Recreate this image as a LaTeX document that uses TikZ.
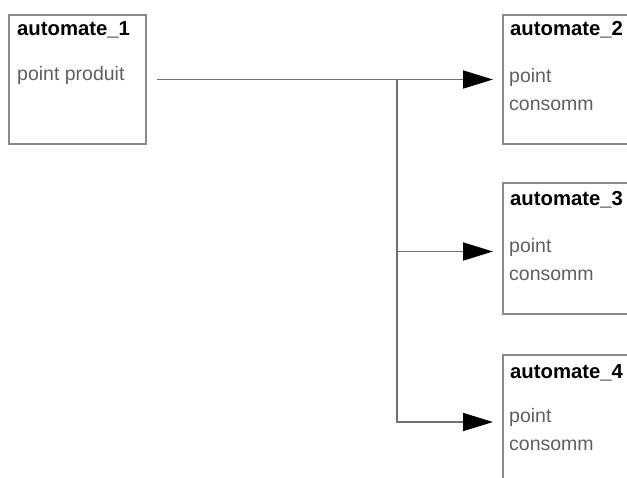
\documentclass[tikz,border=0pt]{standalone}
\usepackage{fontspec}
\setmainfont{Liberation Sans}
\usetikzlibrary{arrows.meta}
\definecolor{boxline}{HTML}{8A8A8A}
\definecolor{wireline}{HTML}{707070}
\definecolor{bodytext}{HTML}{606060}
\begin{document}
\begin{tikzpicture}[x=1pt,y=-1pt,
  block/.style={draw=boxline,line width=1.8pt,rectangle,fill=white,
    minimum width=137pt,minimum height=129pt,inner sep=0pt,outer sep=0pt},
  title/.style={anchor=base west,inner sep=0pt,font=\fontsize{20.3}{20.3}\selectfont\bfseries},
  body/.style={anchor=base west,inner sep=0pt,text=bodytext,
    font=\fontsize{19.5}{19.5}\selectfont},
  wire/.style={draw=wireline,line width=1.7pt},
  arrowwire/.style={wire,-{Triangle[length=30pt,width=18pt,fill=black,color=black]},shorten >=10pt}
]
\useasboundingbox (0,0) rectangle (627,477);
\clip (0,0) rectangle (627,477);
\fill[white] (0,0) rectangle (627,477);

% producer
\node[block,anchor=north west] (a1) at (9,15) {};
\node[title] (t1) at (17,35) {automate\_1};
\node[body] (p1) at (17,80) {point produit};

% consumers
\node[block,anchor=north west] (a2) at (503,15) {};
\node[title] (t2) at (510,35) {automate\_2};
\node[body] (p2) at (509,82) {point};
\node[body] (c2) at (509,110) {consomm};

\node[block,anchor=north west,minimum height=131pt] (a3) at (503,183) {};
\node[title] (t3) at (510,205) {automate\_3};
\node[body] (p3) at (509,252) {point};
\node[body] (c3) at (509,280) {consomm};

\node[block,anchor=north west,minimum height=134pt] (a4) at (503,355) {};
\node[title] (t4) at (510,378) {automate\_4};
\node[body] (p4) at (509,422) {point};
\node[body] (c4) at (509,450) {consomm};

% distribution wiring
\coordinate (start) at ([xshift=11pt]a1.east);
\coordinate (j) at (397,79);
\draw[arrowwire] (start) -- (a2.west |- start);
\draw[arrowwire] (j) |- ([yshift=-3pt]a3.west);
\draw[arrowwire] (j) |- (a4.west);
\end{tikzpicture}
\end{document}
